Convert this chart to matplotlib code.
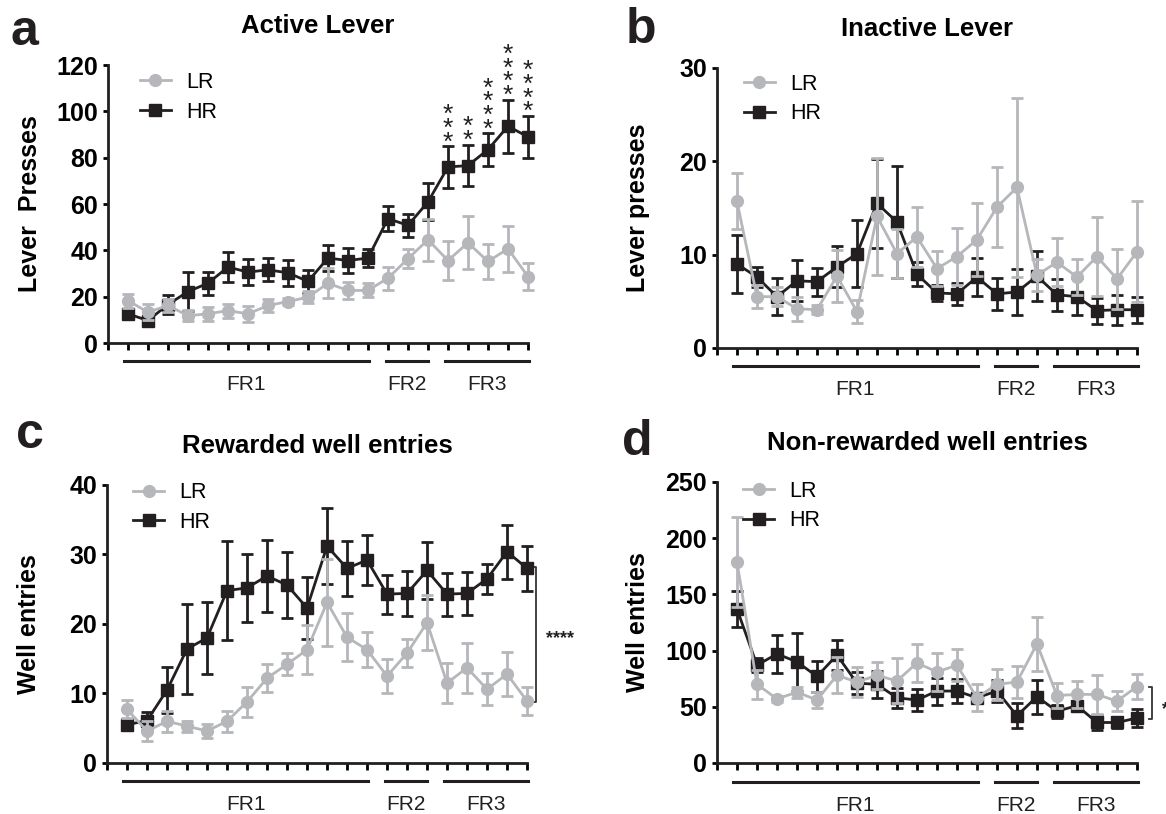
"""Four-panel LR vs HR lever / well-entry plot."""
import matplotlib
matplotlib.use("Agg")
import matplotlib.pyplot as plt
import matplotlib.transforms as mtransforms

plt.rcParams['font.family'] = ['Liberation Sans', 'DejaVu Sans']

# ---- data ----
sessions = list(range(1, 22))
fr_groups = ["FR1", "FR2", "FR3"]
fr_spans = [(0.8, 13.05), (13.9, 16.0), (16.85, 21.05)]

a_lr = [18.3, 13.3, 16.2, 11.8, 12.6, 14.0, 12.6, 16.2, 17.9, 19.8, 25.8,
        22.7, 22.7, 28.0, 36.4, 44.6, 35.6, 43.3, 35.2, 40.7, 28.7]
a_lr_err = [3, 3.5, 3, 2.5, 3, 3, 3.5, 3, 1.5, 2.5, 6.5, 3.5, 3, 5, 4, 9,
            8.5, 11.5, 7.5, 10, 6]
a_hr = [12.6, 9.7, 16.6, 22.2, 25.8, 32.8, 30.6, 31.6, 30.3, 26.6, 36.7,
        35.6, 36.7, 53.7, 50.8, 60.9, 76.0, 76.6, 83.5, 93.6, 89.0]
a_hr_err = [1.5, 1.5, 4, 8.5, 5, 6.5, 5.5, 5, 5.5, 5, 5.5, 5.5, 4, 5.5, 5,
            8, 9, 9, 7, 11.5, 9]
a_stars = [0] * 16 + [3, 2, 4, 4, 4]

b_lr = [15.7, 5.5, 5.5, 4.2, 4.1, 7.7, 3.9, 14.1, 10.1, 11.9, 8.5, 9.8,
        11.6, 15.1, 17.2, 7.8, 9.2, 7.6, 9.8, 7.4, 10.3]
b_lr_err = [3, 1.2, 1.0, 1.3, 0.5, 2.8, 1.2, 6.3, 2.6, 3.2, 1.9, 3.1, 3.9,
            4.3, 9.6, 1.7, 2.6, 1.9, 4.2, 3.2, 5.4]
b_hr = [9.0, 7.6, 5.5, 7.2, 7.1, 8.7, 10.1, 15.5, 13.5, 7.9, 5.9, 5.8, 7.6,
        5.8, 6.0, 7.7, 5.7, 5.5, 4.0, 4.1, 4.1]
b_hr_err = [3.1, 1.1, 2.0, 2.2, 1.5, 2.2, 3.6, 4.8, 6.0, 1.3, 0.9, 1.2, 2.0,
            1.7, 2.5, 2.7, 1.7, 2.0, 1.4, 1.6, 1.4]

c_lr = [7.7, 4.6, 6.0, 5.3, 4.6, 6.0, 8.8, 12.2, 14.2, 16.3, 23.1, 18.1,
        16.3, 12.5, 15.8, 20.2, 11.5, 13.7, 10.6, 12.8, 8.9]
c_lr_err = [1.3, 1.5, 1.5, 0.8, 1.0, 1.5, 2.2, 2.0, 1.6, 3.5, 6.3, 3.5, 2.5,
            2.5, 2.0, 4.0, 2.9, 3.6, 2.3, 3.2, 2.0]
c_hr = [5.5, 6.1, 10.5, 16.4, 18.0, 24.8, 25.2, 26.9, 25.6, 22.3, 31.2, 28.0,
        29.2, 24.3, 24.4, 27.7, 24.3, 24.4, 26.5, 30.4, 28.0]
c_hr_err = [0.8, 1.3, 3.3, 6.5, 5.2, 7.1, 4.9, 5.2, 4.8, 4.4, 5.5, 4.0, 3.6,
            2.8, 3.2, 4.1, 3.1, 3.1, 2.2, 3.9, 3.2]

d_lr = [179, 70, 57, 63, 56, 78, 72, 78, 73, 89, 81, 87, 58, 70, 72, 106,
        60, 61, 61, 55, 68]
d_lr_err = [40, 13, 3, 5, 7, 16, 13, 12, 20, 17, 17, 14, 12, 14, 14, 24,
            11, 12, 17, 9, 11]
d_hr = [137, 87, 97, 90, 77, 96, 71, 70, 58, 56, 64, 64, 58, 64, 42, 59,
        46, 51, 36, 36, 40]
d_hr_err = [16, 6, 17, 26, 14, 13, 10, 12, 9, 10, 12, 11, 4, 10, 11, 15,
            6, 4, 7, 5, 8]

# ---- style ----
LR_COLOR = "#b5b7ba"
HR_COLOR = "#231f20"
TICK_FS = 18
LABEL_FS = 18
TITLE_FS = 18.5
LEGEND_FS = 15.5
FR_FS = 15

fig = plt.figure(figsize=(11.66, 8.14), dpi=100)

# axes rectangles [left, bottom, width, height] in figure fractions
ax_a = fig.add_axes([0.0926, 0.5786, 0.3602, 0.3415])
ax_b = fig.add_axes([0.6149, 0.5725, 0.3602, 0.3440])
ax_c = fig.add_axes([0.0918, 0.0627, 0.3602, 0.3415])
ax_d = fig.add_axes([0.6149, 0.0627, 0.3602, 0.3452])


def draw_panel(ax, lr, lr_err, hr, hr_err, ymax, ystep, title, ylabel,
               leg_xy, ylab_x):
    # HR first, LR on top of it
    ax.errorbar(sessions, hr, yerr=hr_err, fmt='none', ecolor=HR_COLOR,
                elinewidth=2, capsize=4.5, capthick=2, clip_on=False, zorder=2)
    hr_line, = ax.plot(sessions, hr, color=HR_COLOR, lw=2, marker='s', ms=9,
                       clip_on=False, zorder=3, label="HR")
    ax.errorbar(sessions, lr, yerr=lr_err, fmt='none', ecolor=LR_COLOR,
                elinewidth=2, capsize=4.5, capthick=2, clip_on=False, zorder=4)
    lr_line, = ax.plot(sessions, lr, color=LR_COLOR, lw=2, marker='o', ms=8.5,
                       clip_on=False, zorder=5, label="LR")

    ax.set_xlim(0, 21)
    ax.set_ylim(0, ymax)
    ax.set_xticks(range(0, 22))
    ax.set_xticklabels([])
    ax.set_yticks(range(0, ymax + 1, ystep))
    for lab in ax.get_yticklabels():
        lab.set_fontweight('bold')
        lab.set_fontsize(TICK_FS)
    ax.tick_params(axis='x', direction='out', length=5, width=2)
    ax.tick_params(axis='y', direction='out', length=3.6, width=2, pad=3.5)
    for side in ['top', 'right']:
        ax.spines[side].set_visible(False)
    for side in ['left', 'bottom']:
        ax.spines[side].set_linewidth(2)
        ax.spines[side].set_color(HR_COLOR)

    ax.set_title(title, fontsize=TITLE_FS, fontweight='bold', pad=23)
    ax.set_ylabel(ylabel, fontsize=LABEL_FS, fontweight='bold')
    ax.yaxis.set_label_coords(ylab_x, 0.5)

    ax.legend(handles=[lr_line, hr_line], loc='upper left',
              bbox_to_anchor=leg_xy, frameon=False, fontsize=LEGEND_FS,
              handlelength=1.45, handletextpad=0.7, labelspacing=0.4,
              borderpad=0, borderaxespad=0)

    # FR group bars and labels below the axis
    trans = mtransforms.blended_transform_factory(ax.transData, ax.transAxes)
    for name, (x0, x1) in zip(fr_groups, fr_spans):
        ax.plot([x0, x1], [-0.066, -0.066], color=HR_COLOR, lw=2.2,
                transform=trans, clip_on=False)
        ax.text((x0 + x1) / 2, -0.15, name, transform=trans, ha='center',
                va='center', fontsize=FR_FS, color=HR_COLOR)


draw_panel(ax_a, a_lr, a_lr_err, a_hr, a_hr_err, 120, 20, "Active Lever",
           "Lever  Presses", (0.076, 0.975), -0.157)
draw_panel(ax_b, b_lr, b_lr_err, b_hr, b_hr_err, 30, 10, "Inactive Lever",
           "Lever presses", (0.064, 0.98), -0.16)
draw_panel(ax_c, c_lr, c_lr_err, c_hr, c_hr_err, 40, 10,
           "Rewarded well entries", "Well entries", (0.062, 1.01), -0.157)
draw_panel(ax_d, d_lr, d_lr_err, d_hr, d_hr_err, 250, 50,
           "Non-rewarded well entries", "Well entries", (0.062, 1.005), -0.16)

# significance stars (stacked) above the HR points in panel a
for x, y, e, n in zip(sessions, a_hr, a_hr_err, a_stars):
    if n == 0:
        continue
    ax_a.annotate("\n".join(["*"] * n), xy=(x, y + e), xytext=(0, -6),
                  textcoords='offset points', ha='center', va='bottom',
                  fontsize=19, linespacing=0.46, color=HR_COLOR,
                  annotation_clip=False)


# brackets comparing groups on the last session
def bracket(ax, x, y0, y1, arm, label, lx, ly, fs):
    ax.plot([x - arm, x, x, x - arm], [y0, y0, y1, y1], color="#333333",
            lw=1.3, clip_on=False)
    ax.annotate(label, xy=(lx, ly), xytext=(0, -0.58 * fs),
                textcoords='offset points', ha='left', va='baseline',
                fontsize=fs, fontweight='bold', color=HR_COLOR,
                annotation_clip=False)


bracket(ax_c, 21.45, 8.8, 28.2, 0.15, "****", 21.95, 18.7, 13)
bracket(ax_d, 21.75, 39, 67.6, 0.15, "*", 22.25, 53, 13)

# panel letters
for letter, px, py in [("a", 11, 45), ("b", 626, 43), ("c", 16, 448),
                       ("d", 622, 455)]:
    fig.text(px / 1166, 1 - py / 814, letter, fontsize=36, fontweight='bold',
             ha='left', va='baseline', color=HR_COLOR)

fig.savefig("out.png", dpi=100)
